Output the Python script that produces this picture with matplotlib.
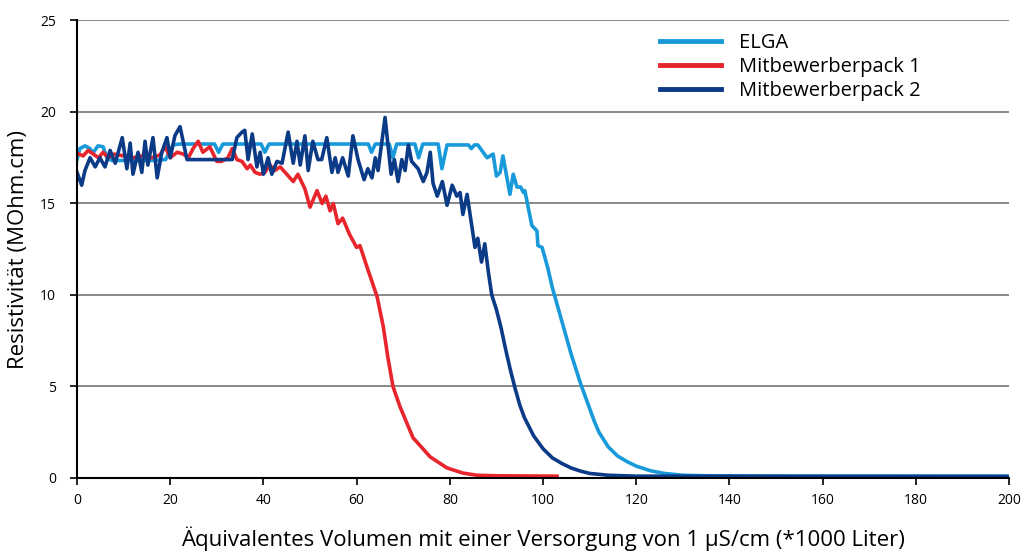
import matplotlib
matplotlib.use("Agg")
import matplotlib.pyplot as plt

# ---- data ----
elga_x = [0, 0.6, 1.7, 2.8, 3.4, 4.5, 5.6, 6.4, 7.5, 10, 13, 16, 19, 20.6, 22, 29.5, 30.4, 31.3,
          39.5, 40.3, 41.2, 62.5, 63.2, 64, 67, 67.8, 68.6, 72.5, 73.3, 74.2, 77.5, 78.3, 79.4,
          84, 84.6, 85.3, 86, 88, 89.3, 90, 90.8, 91.4, 92.9, 93.6, 94.4, 95.2, 95.8, 96.1,
          97.6, 98.7, 98.9, 99.8, 101, 102, 104, 106, 108, 109, 110, 111, 112, 114, 116, 118,
          120, 123, 126, 130, 135, 150, 200]
elga_y = [17.4, 18.0, 18.15, 18.0, 17.75, 18.15, 18.1, 17.5, 17.35, 17.35, 17.35, 17.35, 17.4, 18.2, 18.25, 18.25, 17.8, 18.25,
          18.25, 17.8, 18.25, 18.25, 17.8, 18.25, 18.25, 17.5, 18.25, 18.25, 17.5, 18.25, 18.25, 16.9, 18.2,
          18.2, 18.0, 18.2, 18.2, 17.5, 17.7, 16.5, 16.7, 17.6, 15.5, 16.6, 15.9, 15.9, 15.6, 15.7,
          13.8, 13.5, 12.7, 12.6, 11.5, 10.4, 8.6, 6.8, 5.2, 4.5, 3.8, 3.1, 2.5, 1.7, 1.2, 0.9,
          0.65, 0.4, 0.25, 0.15, 0.12, 0.1, 0.1]

pack1_x = [0, 1.3, 2.4, 3.5, 4.6, 5.6, 6.7, 8, 10, 12, 14, 16, 17.8, 18.9, 20, 21.5, 22.8, 23.9,
           24.9, 26, 27, 28.5, 30, 31, 32.4, 33.3, 34.3, 35.4, 36.5, 37.2, 38.2, 39.3, 40.3, 41.4,
           42.4, 43.6, 45, 46.4, 47.4, 48.9, 50, 51.5, 52.6, 53.4, 54.3, 55, 56, 57, 58.5, 60,
           60.7, 62.4, 64.4, 65.7, 66.7, 67.8, 69.3, 72.1, 75.8, 79.4, 82.8, 85.8, 90, 103]
pack1_y = [17.75, 17.6, 17.9, 17.7, 17.5, 17.8, 17.5, 17.7, 17.6, 17.5, 17.6, 17.5, 17.65, 18.1, 17.5, 17.8, 17.7, 17.5,
           18.0, 18.4, 17.8, 18.1, 17.3, 17.3, 17.5, 18.0, 17.4, 17.3, 16.9, 17.1, 16.7, 16.6, 16.7, 17.1,
           16.8, 17.0, 16.6, 16.2, 16.6, 15.8, 14.8, 15.7, 15.0, 15.4, 14.6, 15.0, 13.9, 14.2, 13.3, 12.6,
           12.7, 11.4, 9.9, 8.3, 6.6, 5.0, 3.9, 2.2, 1.15, 0.55, 0.27, 0.15, 0.12, 0.1]

pack2_x = [0, 1, 1.7, 2.8, 3.9, 4.9, 6, 7.1, 8.2, 9.7, 10.7, 11.4, 12, 13.1, 13.9, 14.6, 15.2, 16.3,
           17.2, 18.2, 19.3, 20, 21, 22.1, 23.6, 33.3, 34.3, 35.4, 36, 36.7, 37.6, 38.6, 39.3, 40,
           41, 41.8, 42.9, 44, 45.3, 46.4, 47.2, 47.9, 48.9, 49.6, 50.6, 51.7, 52.5, 53.6, 54.7,
           55.4, 56, 57, 58.2, 59.2, 60.3, 61.6, 62.4, 63.3, 64, 64.6, 66.1, 67.4, 68.1, 68.9, 69.7,
           70.4, 71.1, 71.8, 73.2, 74.3, 75.1, 75.8, 76.4, 77.3, 78.4, 79.4, 80.5, 81.5, 82.2, 82.8,
           83.7, 85.4, 86, 86.8, 87.5, 88.3, 89, 90, 91, 92, 93, 94, 95, 96, 97, 98, 100, 102, 104,
           106, 108, 110, 114, 120, 200]
pack2_y = [16.7, 16.0, 16.8, 17.5, 17.0, 17.5, 17.0, 17.9, 17.2, 18.6, 16.9, 18.3, 16.6, 17.8, 16.7, 18.4, 17.1, 18.6,
           16.4, 17.8, 18.6, 17.5, 18.7, 19.2, 17.4, 17.4, 18.6, 18.9, 19.0, 17.4, 18.8, 17.0, 17.8, 16.6,
           17.5, 16.6, 17.3, 17.2, 18.9, 17.2, 18.4, 17.1, 18.7, 16.8, 18.4, 17.4, 17.4, 18.6, 16.7,
           17.5, 16.7, 17.5, 16.5, 18.7, 17.4, 16.3, 16.9, 16.4, 17.5, 16.8, 19.7, 16.6, 17.4, 16.2, 17.4,
           16.8, 18.2, 17.3, 16.9, 16.2, 16.7, 17.8, 16.1, 15.4, 16.2, 14.9, 16.0, 15.4, 15.6, 14.4,
           15.5, 12.6, 13.1, 11.8, 12.8, 11.2, 10.0, 9.2, 8.2, 7.0, 5.9, 4.9, 4.0, 3.3, 2.8, 2.3, 1.6, 1.1, 0.8,
           0.55, 0.38, 0.25, 0.15, 0.1, 0.08]

series_names = ["ELGA", "Mitbewerberpack 1", "Mitbewerberpack 2"]
colors = ["#189ADA", "#E8242C", "#0B3A86"]
x_ticks = [0, 20, 40, 60, 80, 100, 120, 140, 160, 180, 200]
y_ticks = [0, 5, 10, 15, 20, 25]
x_label = "Äquivalentes Volumen mit einer Versorgung von 1 µS/cm (*1000 Liter)"
y_label = "Resistivität (MOhm.cm)"

plt.rcParams['font.family'] = ['Open Sans', 'DejaVu Sans']

fig = plt.figure(figsize=(10.27, 5.54), dpi=100)
ax = fig.add_axes([0.075, 0.1372, 0.9075, 0.8258])

for gy in y_ticks[1:]:
    ax.axhline(gy, color="#808080", lw=1.3, zorder=1)

lw = 2.6
ax.plot(elga_x, elga_y, color=colors[0], lw=lw, label=series_names[0], zorder=3, solid_joinstyle='round')
ax.plot(pack1_x, pack1_y, color=colors[1], lw=lw, label=series_names[1], zorder=4, solid_joinstyle='round')
ax.plot(pack2_x, pack2_y, color=colors[2], lw=lw, label=series_names[2], zorder=5, solid_joinstyle='round')

ax.set_xlim(0, 200)
ax.set_ylim(0, 25)
ax.set_xticks(x_ticks)
ax.set_yticks(y_ticks)
ax.tick_params(axis='both', direction='out', length=5, width=1.2, labelsize=10, colors='black')
ax.tick_params(axis='x', pad=6)
ax.tick_params(axis='y', pad=10)
for s in ['top', 'right']:
    ax.spines[s].set_visible(False)
for s in ['left', 'bottom']:
    ax.spines[s].set_linewidth(1.5)
    ax.spines[s].set_color('black')
    ax.spines[s].set_zorder(6)

ax.set_xlabel(x_label, fontsize=16, labelpad=13)
ax.set_ylabel(y_label, fontsize=16, labelpad=8)

leg = ax.legend(loc='upper left', bbox_to_anchor=(0.617, 0.99), frameon=False,
                fontsize=14.5, handlelength=3.0, handletextpad=0.9, labelspacing=0.2,
                borderaxespad=0)
for h in leg.get_lines():
    h.set_linewidth(3.5)

fig.savefig("out.png", dpi=100)
